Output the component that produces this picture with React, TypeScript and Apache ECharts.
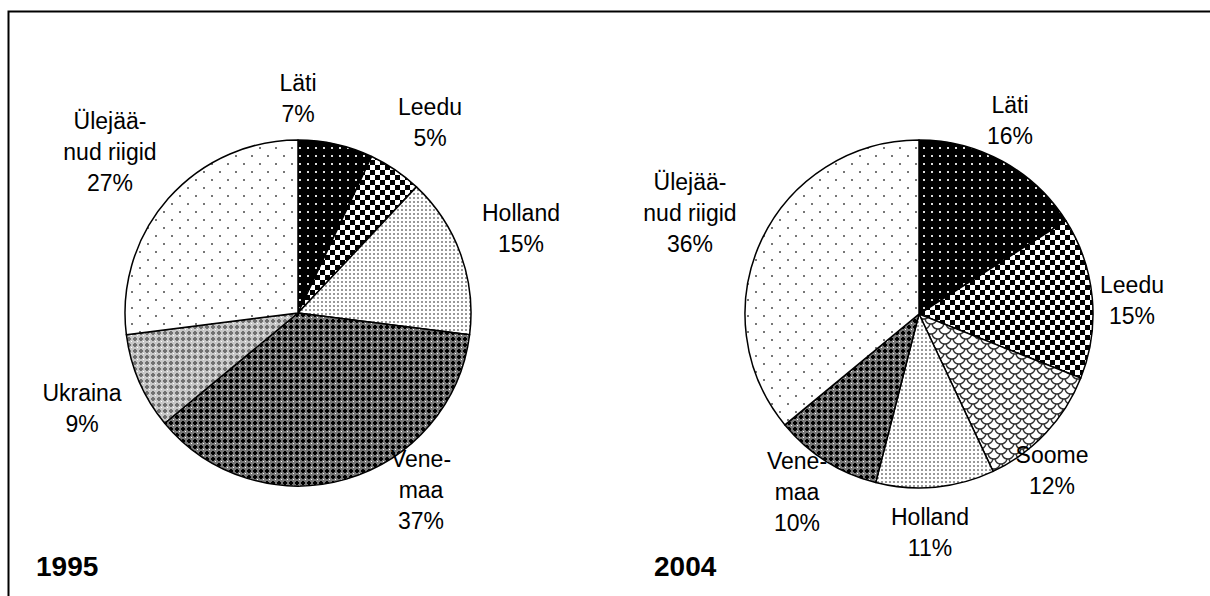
import React, { useEffect, useRef } from 'react';
import * as echarts from 'echarts';

// ---- data ----
const names1995 = ['Läti', 'Leedu', 'Holland', 'Venemaa', 'Ukraina', 'Ülejäänud riigid'];
const labels1995 = ['Läti', 'Leedu', 'Holland', 'Vene-\nmaa', 'Ukraina', 'Ülejää-\nnud riigid'];
const values1995 = [7, 5, 15, 37, 9, 27];

const names2004 = ['Läti', 'Leedu', 'Soome', 'Holland', 'Venemaa', 'Ülejäänud riigid'];
const labels2004 = ['Läti', 'Leedu', 'Soome', 'Holland', 'Vene-\nmaa', 'Ülejää-\nnud riigid'];
const values2004 = [16, 15, 12, 11, 10, 36];

const years = ['1995', '2004'];

// ---- layout (label block centres) ----
const labelPos1995: [number, number][] = [
  [298, 98], [430, 122], [521, 228], [421, 490], [82, 408], [110, 152],
];
const labelPos2004: [number, number][] = [
  [1010, 120], [1132, 300], [1052, 470], [930, 532], [797, 492], [690, 213],
];

const FONT = '"Liberation Sans", Arial, sans-serif';

function tile(w: number, h: number, draw: (ctx: CanvasRenderingContext2D) => void) {
  const c = document.createElement('canvas');
  c.width = w;
  c.height = h;
  const ctx = c.getContext('2d') as CanvasRenderingContext2D;
  draw(ctx);
  return { image: c, repeat: 'repeat' } as any;
}

function makePatterns() {
  const lati = tile(8, 8, (ctx) => {
    ctx.fillStyle = '#000'; ctx.fillRect(0, 0, 8, 8);
    ctx.fillStyle = '#ddd'; ctx.fillRect(3, 3, 2, 2);
  });
  const leedu = tile(10, 10, (ctx) => {
    ctx.fillStyle = '#fff'; ctx.fillRect(0, 0, 10, 10);
    ctx.fillStyle = '#000'; ctx.fillRect(0, 0, 5, 5); ctx.fillRect(5, 5, 5, 5);
  });
  const holland = tile(4, 4, (ctx) => {
    ctx.fillStyle = '#fff'; ctx.fillRect(0, 0, 4, 4);
    ctx.fillStyle = '#999'; ctx.fillRect(1, 1, 2, 2);
  });
  const vene = tile(6, 6, (ctx) => {
    ctx.fillStyle = '#777'; ctx.fillRect(0, 0, 6, 6);
    ctx.fillStyle = '#000'; ctx.fillRect(1, 2, 4, 2); ctx.fillRect(2, 1, 2, 4);
    ctx.fillStyle = '#fff'; ctx.fillRect(5, 5, 1, 1);
  });
  const ukraina = tile(6, 6, (ctx) => {
    ctx.fillStyle = '#c8c8c8'; ctx.fillRect(0, 0, 6, 6);
    ctx.fillStyle = '#707070'; ctx.fillRect(1, 2, 4, 2); ctx.fillRect(2, 1, 2, 4);
    ctx.fillStyle = '#fff'; ctx.fillRect(5, 5, 1, 1);
  });
  const muud = tile(16, 16, (ctx) => {
    ctx.fillStyle = '#fff'; ctx.fillRect(0, 0, 16, 16);
    ctx.fillStyle = '#777'; ctx.fillRect(3, 3, 2, 2); ctx.fillRect(11, 11, 2, 2);
  });
  const soome = tile(14, 10, (ctx) => {
    ctx.fillStyle = '#fff'; ctx.fillRect(0, 0, 14, 10);
    ctx.strokeStyle = '#333'; ctx.lineWidth = 1.4;
    ctx.beginPath(); ctx.arc(7, -2, 6, 0.1, Math.PI - 0.1); ctx.stroke();
    ctx.beginPath(); ctx.arc(0, 3, 6, 0.1, Math.PI - 0.1); ctx.stroke();
    ctx.beginPath(); ctx.arc(14, 3, 6, 0.1, Math.PI - 0.1); ctx.stroke();
    ctx.beginPath(); ctx.arc(7, 8, 6, 0.1, Math.PI - 0.1); ctx.stroke();
  });
  return { lati, leedu, holland, vene, ukraina, muud, soome };
}

export default function App() {
  const ref = useRef<HTMLDivElement>(null);
  useEffect(() => {
    document.body.style.margin = '0';
    if (!ref.current) return;
    const chart = echarts.init(ref.current, undefined, { renderer: 'svg' });
    const p = makePatterns();
    const fills1995 = [p.lati, p.leedu, p.holland, p.vene, p.ukraina, p.muud];
    const fills2004 = [p.lati, p.leedu, p.soome, p.holland, p.vene, p.muud];

    const labelStyle = {
      show: true,
      position: 'outside',
      color: '#000',
      fontSize: 23,
      lineHeight: 31,
      fontFamily: FONT,
      align: 'center',
    };

    const mkSeries = (names: string[], labels: string[], values: number[], fills: any[], center: [number, number], radius: number, pos: [number, number][]) => ({
      type: 'pie',
      center,
      radius,
      startAngle: 90,
      clockwise: true,
      avoidLabelOverlap: false,
      silent: true,
      itemStyle: { borderColor: '#000', borderWidth: 1.5 },
      label: {
        ...labelStyle,
        formatter: (prm: any) => `${labels[prm.dataIndex]}\n${prm.value}%`,
      },
      labelLine: { show: false },
      labelLayout: (prm: any) => ({
        x: pos[prm.dataIndex][0],
        y: pos[prm.dataIndex][1],
        align: 'center',
        verticalAlign: 'middle',
      }),
      data: names.map((n, i) => ({ name: n, value: values[i], itemStyle: { color: fills[i] } })),
    });

    chart.setOption({
      animation: false,
      backgroundColor: '#fff',
      title: [
        { text: years[0], left: 36, top: 552, padding: 0, textStyle: { fontSize: 28, fontWeight: 'bold', color: '#000', fontFamily: FONT } },
        { text: years[1], left: 654, top: 552, padding: 0, textStyle: { fontSize: 28, fontWeight: 'bold', color: '#000', fontFamily: FONT } },
      ],
      graphic: [
        {
          type: 'polyline',
          shape: { points: [[8.5, 596], [8.5, 11.5], [1210, 11.5]] },
          style: { stroke: '#000', lineWidth: 2, fill: 'none' },
          silent: true,
        },
      ],
      series: [
        mkSeries(names1995, labels1995, values1995, fills1995, [298, 313], 173, labelPos1995),
        mkSeries(names2004, labels2004, values2004, fills2004, [919, 314], 174, labelPos2004),
      ],
    });
    return () => chart.dispose();
  }, []);
  return <div ref={ref} style={{ width: 1210, height: 596 }} />;
}
